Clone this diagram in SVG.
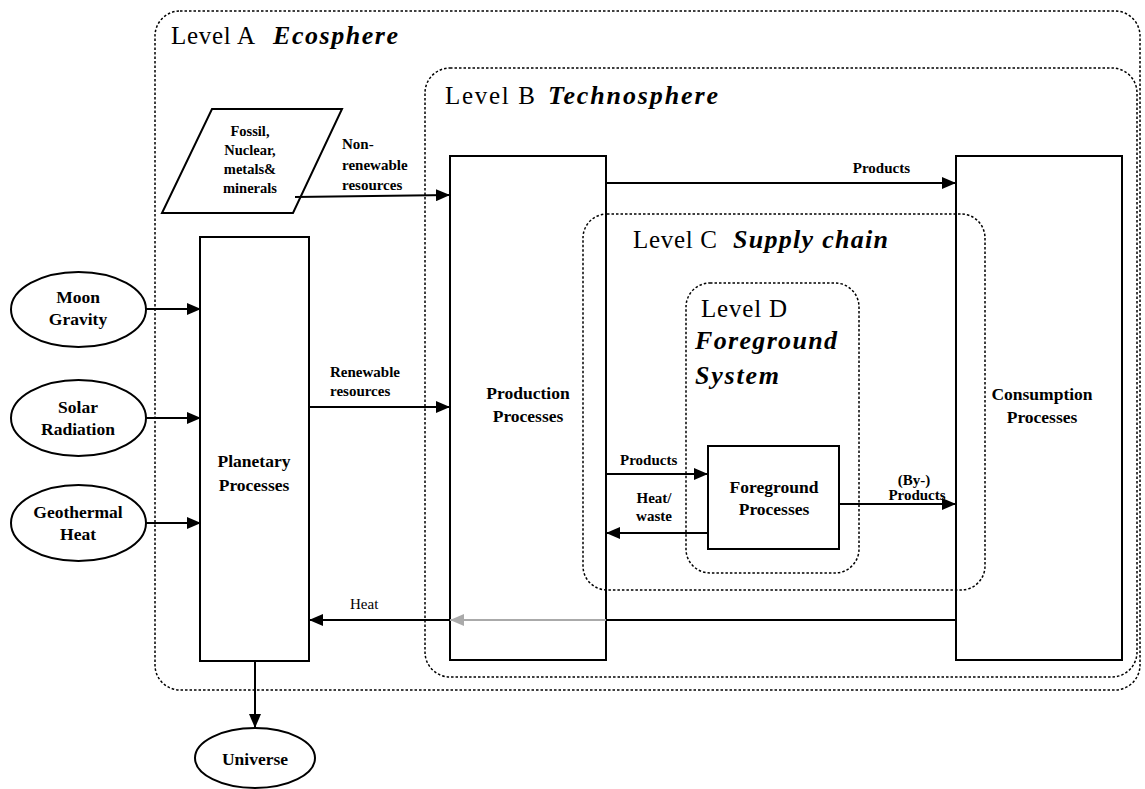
<svg xmlns="http://www.w3.org/2000/svg" width="1145" height="789" viewBox="0 0 1145 789">
<defs>
<marker id="ah" markerWidth="14" markerHeight="12" refX="14" refY="6" orient="auto" markerUnits="userSpaceOnUse"><path d="M0,0 L14,6 L0,12 Z" fill="#000"/></marker>
<marker id="ahg" markerWidth="14" markerHeight="12" refX="14" refY="6" orient="auto" markerUnits="userSpaceOnUse"><path d="M0,0 L14,6 L0,12 Z" fill="#aaa"/></marker>
</defs>
<style>
text{font-family:"Liberation Serif","DejaVu Serif",serif;fill:#000}
.lvl{fill:none;stroke:#000;stroke-width:1.5;stroke-dasharray:2.5 2}
.box{fill:none;stroke:#000;stroke-width:2}
.lb{font-size:17.5px;font-weight:bold;text-anchor:middle}
.lp{font-size:14.5px;font-weight:bold;text-anchor:middle}
.ls{font-size:15px;font-weight:bold}
.lv{font-size:25px}
.lvb{font-size:26px;font-weight:bold;font-style:italic}
.c{fill:none;stroke:#000;stroke-width:2;marker-end:url(#ah)}
</style>
<rect width="1145" height="789" fill="#fff"/>
<g id="levelA"><rect class="lvl" x="155" y="11" width="985" height="679" rx="25"/><text class="lv" x="171" y="44" textLength="84">Level A</text><text class="lv lvb" x="273" y="44" textLength="125">Ecosphere</text></g>
<g id="levelB"><rect class="lvl" x="425" y="68" width="712" height="609" rx="25"/><text class="lv" x="445" y="104" textLength="90">Level B</text><text class="lv lvb" x="548" y="104" textLength="170">Technosphere</text></g>
<g id="levelC"><rect class="lvl" x="583" y="214" width="402" height="376" rx="24"/><text class="lv" x="633" y="248" textLength="84">Level C</text><text class="lv lvb" x="733" y="248" textLength="155">Supply chain</text></g>
<g id="levelD"><rect class="lvl" x="686" y="283" width="173" height="290" rx="24"/><text class="lv" x="701" y="317" textLength="86">Level D</text><text class="lv lvb" x="695" y="349" textLength="142">Foreground</text><text class="lv lvb" x="695" y="384" textLength="84">System</text></g>
<g id="fossil"><polygon class="box" points="212,109 342,109 293,213 162,213"/><text class="lp"><tspan x="250" y="136">Fossil,</tspan><tspan x="250" y="155">Nuclear,</tspan><tspan x="250" y="174">metals&amp;</tspan><tspan x="250" y="193">minerals</tspan></text></g>
<g id="planetary"><rect class="box" x="200" y="237" width="109" height="424"/><text class="lb"><tspan x="254" y="467">Planetary</tspan><tspan x="254" y="491">Processes</tspan></text></g>
<g id="production"><rect class="box" x="450" y="156" width="156" height="504"/><text class="lb"><tspan x="528" y="399">Production</tspan><tspan x="528" y="422">Processes</tspan></text></g>
<g id="consumption"><rect class="box" x="956" y="156" width="166" height="504"/><text class="lb"><tspan x="1042" y="400">Consumption</tspan><tspan x="1042" y="423">Processes</tspan></text></g>
<g id="foreground"><rect class="box" x="708" y="446" width="131" height="103"/><text class="lb"><tspan x="774" y="493">Foreground</tspan><tspan x="774" y="515">Processes</tspan></text></g>
<g id="moon"><ellipse class="box" cx="78.5" cy="309.5" rx="67.5" ry="37.5"/><text class="lb"><tspan x="78" y="303">Moon</tspan><tspan x="78" y="325">Gravity</tspan></text></g>
<g id="solar"><ellipse class="box" cx="78.5" cy="418" rx="67.5" ry="38"/><text class="lb"><tspan x="78" y="413">Solar</tspan><tspan x="78" y="435">Radiation</tspan></text></g>
<g id="geothermal"><ellipse class="box" cx="78.5" cy="523" rx="67.5" ry="38"/><text class="lb"><tspan x="78" y="518">Geothermal</tspan><tspan x="78" y="540">Heat</tspan></text></g>
<g id="universe"><ellipse class="box" cx="255" cy="758" rx="60" ry="30"/><text class="lb" x="255" y="765">Universe</text></g>
<g id="connectors">
<line class="c" x1="146" y1="309" x2="201" y2="309"/>
<line class="c" x1="146" y1="418" x2="201" y2="418"/>
<line class="c" x1="146" y1="523" x2="201" y2="523"/>
<line class="c" x1="295" y1="197" x2="450" y2="195"/>
<line class="c" x1="309" y1="407" x2="450" y2="407"/>
<line class="c" x1="606" y1="183" x2="956" y2="183"/>
<line class="c" x1="606" y1="474" x2="708" y2="474"/>
<line class="c" x1="708" y1="533" x2="606" y2="533"/>
<line class="c" x1="839" y1="504" x2="956" y2="504"/>
<line x1="956" y1="620" x2="606" y2="620" stroke="#000" stroke-width="2"/>
<line x1="606" y1="620" x2="450" y2="620" stroke="#aaa" stroke-width="2" marker-end="url(#ahg)"/>
<line class="c" x1="450" y1="620" x2="309" y2="620"/>
<line class="c" x1="255" y1="661" x2="255" y2="728"/>
<text class="ls" x="342" y="149">Non-</text><text class="ls" x="342" y="170">renewable</text><text class="ls" x="342" y="190">resources</text>
<text class="ls" x="330" y="377">Renewable</text><text class="ls" x="330" y="396">resources</text>
<text class="ls" x="910" y="173" text-anchor="end">Products</text>
<text class="ls" x="620" y="465">Products</text>
<text class="ls" x="654" y="503" text-anchor="middle">Heat/</text><text class="ls" x="654" y="521" text-anchor="middle">waste</text>
<text class="ls" x="914" y="485" text-anchor="middle">(By-)</text><text class="ls" x="917" y="500" text-anchor="middle">Products</text>
<text x="350" y="609" style="font-size:15px">Heat</text>
</g>
</svg>
